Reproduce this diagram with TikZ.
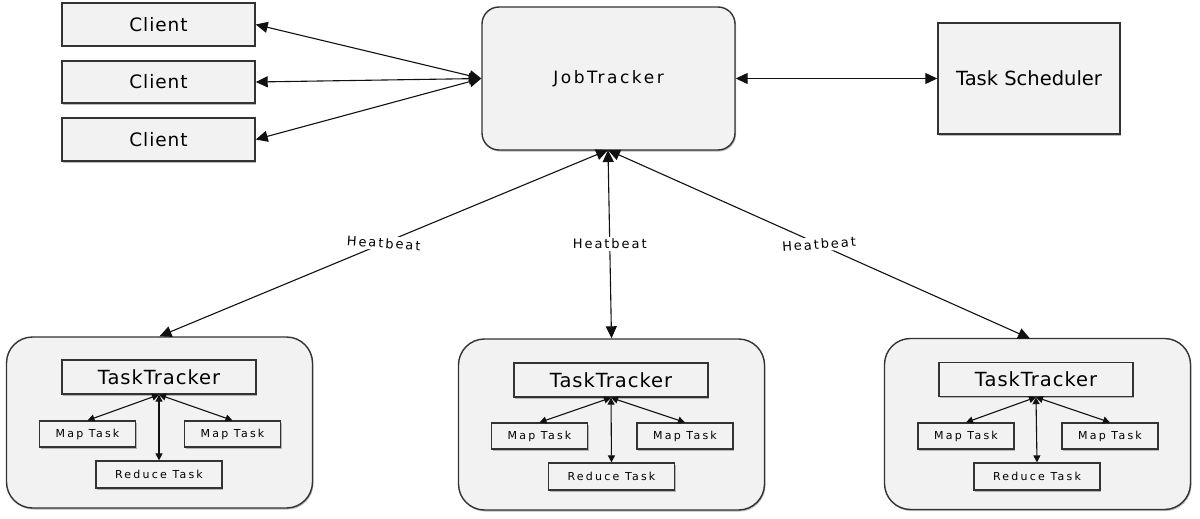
\documentclass[tikz,border=0pt]{standalone}
\usepackage{fontspec}
\setmainfont{DejaVu Sans}
\newfontfamily\fontA[LetterSpace=5]{DejaVu Sans}
\newfontfamily\fontB[LetterSpace=15]{DejaVu Sans}
\newfontfamily\fontC[LetterSpace=20]{DejaVu Sans}
\usetikzlibrary{arrows.meta,shadows}
\definecolor{boxfill}{HTML}{F2F2F2}
\definecolor{boxline}{HTML}{333333}
\definecolor{linec}{HTML}{111111}
\tikzset{
  base/.style={draw=boxline, line width=1.4pt, fill=boxfill, inner sep=0pt, text=black,
    drop shadow={shadow xshift=1pt, shadow yshift=-1.5pt, fill=black!45, opacity=0.6}},
  sq/.style={base, rectangle},
  rnd/.style={base, rectangle, rounded corners=#1},
  clientbox/.style={sq, minimum width=193pt, minimum height=43pt, font=\fontA\fontsize{18.5}{21}\selectfont},
  ttbox/.style={sq, minimum width=194pt, minimum height=34pt, font=\fontA\fontsize{19.5}{22}\selectfont},
  mapbox/.style={sq, line width=1.2pt, minimum width=96pt, minimum height=26pt, font=\fontC\fontsize{11}{13}\selectfont},
  redbox/.style={sq, line width=1.2pt, minimum width=126pt, minimum height=27pt, font=\fontC\fontsize{11}{13}\selectfont},
  outerbox/.style={rnd=26pt, minimum width=306pt, minimum height=171pt},
  bigarr/.style={draw=linec, line width=1.1pt, arrows={Triangle[length=12pt,width=11pt]-Triangle[length=12pt,width=11pt]}},
  smallarr/.style={draw=linec, line width=1.1pt, arrows={Triangle[length=7pt,width=7pt]-Triangle[length=7pt,width=7pt]}},
  hblabel/.style={fill=white, inner sep=2pt, text=black, font=\fontB\fontsize{13}{15}\selectfont},
}
\begin{document}
\begin{tikzpicture}[x=1pt,y=-1pt]
\useasboundingbox (0,0) rectangle (1200,519);
\fill[white] (0,0) rectangle (1200,519);

% top row
\node[clientbox] (c1) at (158.5,24.5) {Client};
\node[clientbox, minimum height=42pt] (c2) at (158.5,82) {Client};
\node[clientbox] (c3) at (158.5,139.5) {Client};
\node[rnd=17pt, minimum width=253pt, minimum height=143pt, font=\fontB\fontsize{17}{20}\selectfont] (jt) at (608.5,78.5) {JobTracker};
\node[sq, minimum width=182pt, minimum height=111pt, font=\fontsize{19.5}{22}\selectfont] (ts) at (1029,78.5) {Task Scheduler};

% bottom groups
\node[outerbox] (g1) at (159.5,422.5) {};
\node[outerbox] (g2) at (611.5,424.5) {};
\node[outerbox] (g3) at (1037.5,424) {};

\node[ttbox] (t1) at (159,377) {TaskTracker};
\node[ttbox] (t2) at (611,380) {TaskTracker};
\node[ttbox] (t3) at (1036,379.5) {TaskTracker};

\node[mapbox] (m1a) at (87.5,434) {Map Task};
\node[mapbox] (m1b) at (232.5,434) {Map Task};
\node[redbox] (r1) at (159,474.5) {Reduce Task};
\node[mapbox] (m2a) at (539.5,436) {Map Task};
\node[mapbox] (m2b) at (685,436) {Map Task};
\node[redbox] (r2) at (611.5,476.5) {Reduce Task};
\node[mapbox] (m3a) at (966,436) {Map Task};
\node[mapbox] (m3b) at (1110,436) {Map Task};
\node[redbox] (r3) at (1037,476.5) {Reduce Task};

% connection points
\coordinate (jtw) at (jt.west);
\coordinate (jts) at (608,150);
\coordinate (g3top) at (1030,338.5);

% client arrows
\draw[bigarr] (jtw) -- (c1.east);
\draw[bigarr] (jtw) -- (c2.east);
\draw[bigarr] (jtw) -- (c3.east);
\draw[bigarr] (jt.east) -- (ts.west);

% heartbeat arrows
\draw[bigarr] (jts) -- node[hblabel, pos=0.5, rotate=-4] {Heatbeat} (g1.north);
\draw[bigarr] (jts) -- node[hblabel, pos=0.5] {Heatbeat} (g2.north);
\draw[bigarr] (jts) -- node[hblabel, pos=0.5, rotate=4] {Heatbeat} (g3top);

% inner arrows
\foreach \t/\a/\b/\r in {t1/m1a/m1b/r1, t2/m2a/m2b/r2, t3/m3a/m3b/r3}{
  \draw[smallarr] (\t.south) -- (\a.north);
  \draw[smallarr] (\t.south) -- (\b.north);
  \draw[smallarr] (\t.south) -- (\r.north);
}
\end{tikzpicture}
\end{document}
